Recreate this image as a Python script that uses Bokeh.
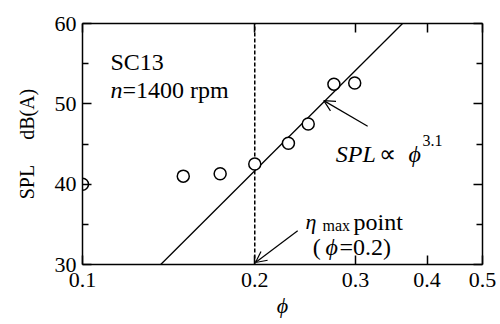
import math
from bokeh.plotting import figure
from bokeh.models import (FixedTicker, PrintfTickFormatter, LinearAxis, LogAxis,
                          Label, Arrow, OpenHead, CustomJSTickFormatter)
from bokeh.embed import file_html
from bokeh.resources import INLINE

# ---- data ----
phi = [0.1, 0.15, 0.174, 0.2, 0.229, 0.248, 0.275, 0.299]
spl = [40.0, 41.0, 41.3, 42.5, 45.1, 47.5, 52.45, 52.6]
phi_fit = [0.137, 0.3625]
spl_fit = [30.0, 60.0]
phi_eta = [0.2, 0.2]
spl_eta = [30.0, 60.0]
x_ticks = [0.1, 0.2, 0.3, 0.4, 0.5]
y_ticks = [30, 40, 50, 60]
y_minor = [35, 45, 55]

SERIF = "'Liberation Serif', 'Times New Roman', serif"
FS = "22px"
TS = "24px"
NB = "\u00a0"

p = figure(width=500, height=324, x_axis_type="log", x_range=(0.1, 0.5), y_range=(30, 60),
           output_backend="svg", toolbar_location=None,
           min_border_left=82, min_border_right=18, min_border_top=23, min_border_bottom=60)
p.grid.visible = False
p.outline_line_color = None
p.background_fill_color = "white"


def style_axis(ax, labels=True, standoff=6):
    ax.axis_line_width = 1.5
    ax.axis_line_color = "black"
    ax.major_tick_in = 9
    ax.major_tick_out = 0
    ax.minor_tick_in = 6
    ax.minor_tick_out = 0
    ax.major_tick_line_width = 1.5
    ax.minor_tick_line_width = 1.5
    ax.major_tick_line_color = "black"
    ax.minor_tick_line_color = "black"
    ax.major_label_text_font = SERIF
    ax.major_label_text_color = "black"
    ax.major_label_text_font_size = FS
    ax.axis_label_text_font = SERIF
    ax.axis_label_text_color = "black"
    if labels:
        ax.major_label_standoff = standoff
    else:
        ax.formatter = CustomJSTickFormatter(code="return ''")
        ax.major_label_standoff = 0


xa = p.xaxis[0]
xa.ticker = FixedTicker(ticks=x_ticks, minor_ticks=[])
xa.formatter = PrintfTickFormatter(format="%.1f")
style_axis(xa, True, 8)
xa.axis_label = "\u03d5"
xa.axis_label_text_font_style = "italic"
xa.axis_label_text_font_size = "22px"
xa.axis_label_standoff = 3

ya = p.yaxis[0]
ya.ticker = FixedTicker(ticks=y_ticks, minor_ticks=y_minor)
style_axis(ya, True, 6)
ya.axis_label = "SPL" + NB * 5 + "dB(A)"
ya.axis_label_text_font_style = "normal"
ya.axis_label_text_font_size = "20px"
ya.axis_label_standoff = 14

top = LogAxis(ticker=FixedTicker(ticks=x_ticks, minor_ticks=[]))
style_axis(top, False)
p.add_layout(top, "above")
right = LinearAxis(ticker=FixedTicker(ticks=y_ticks, minor_ticks=y_minor))
style_axis(right, False)
p.add_layout(right, "right")

# lines
p.line(phi_fit, spl_fit, line_color="black", line_width=1.3)
p.line(phi_eta, spl_eta, line_color="black", line_width=1.5, line_dash="4 2")
p.scatter(phi, spl, marker="circle", size=12, fill_color="white", line_color="black", line_width=1.5)


def lab(x, y, t, size=TS, style="normal", align="left", baseline="alphabetic"):
    p.add_layout(Label(x=x, y=y, text=t, text_font=SERIF, text_font_size=size,
                       text_font_style=style, text_align=align, text_baseline=baseline,
                       text_color="black"))


# in-plot texts
lab(0.1119, 55.15, "SC13")
lab(0.1119, 51.67, "n", style="italic")
lab(0.1175, 51.67, "=1400 rpm")

lab(0.2771, 43.7, "SPL", style="italic")
lab(0.3293, 43.7, "\u221d")
lab(0.3713, 43.7, "\u03d5", style="italic")
lab(0.3927, 45.45, "3.1", size="16px")

lab(0.2454, 35.35, "\u03b7", size="22px", style="italic")
lab(0.2627, 34.9, "max", size="16px")
lab(0.2975, 35.35, "point")
lab(0.2525, 32.24, "(")
lab(0.2659, 32.24, "\u03d5", style="italic")
lab(0.2813, 32.24, "=0.2)")

# arrows
p.add_layout(Arrow(x_start=0.315, y_start=47.2, x_end=0.264, y_end=50.4,
                   line_width=1.2, end=OpenHead(size=11, line_width=1.2)))
p.add_layout(Arrow(x_start=0.2377, y_start=34.2, x_end=0.2006, y_end=30.25,
                   line_width=1.2, end=OpenHead(size=11, line_width=1.2)))

open("out.html", "w").write(file_html(p, INLINE))
